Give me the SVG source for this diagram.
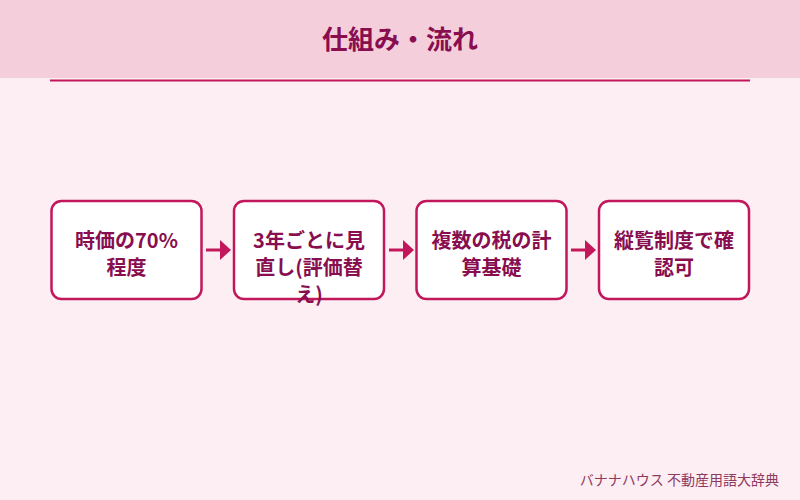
<svg xmlns="http://www.w3.org/2000/svg" width="800" height="500" viewBox="0 0 800 500">
<defs>
<style>
.box{fill:#ffffff;stroke:#c2185b;stroke-width:2.5}
.t{font-family:"Noto Sans CJK JP","Noto Sans",sans-serif;font-weight:bold;font-size:20px;fill:#880e4f;text-anchor:middle}
.shaft{stroke:#c2185b;stroke-width:3;fill:none}
.head{fill:#c2185b}
</style>
</defs>
<rect x="0" y="0" width="800" height="500" fill="#fdeef3"/>
<rect x="0" y="0" width="800" height="78" fill="#f5cedc"/>
<rect x="50" y="79.5" width="700" height="2" fill="#c2185b"/>
<text x="400" y="49" font-family="'Noto Sans CJK JP','Noto Sans',sans-serif" font-weight="bold" font-size="26" fill="#880e4f" text-anchor="middle">仕組み・流れ</text>
<g id="connectors">
<line class="shaft" x1="206" y1="250" x2="221" y2="250"/><polygon class="head" points="220,240 231,250 220,260"/>
<line class="shaft" x1="389" y1="250" x2="404" y2="250"/><polygon class="head" points="403,240 414,250 403,260"/>
<line class="shaft" x1="571" y1="250" x2="586" y2="250"/><polygon class="head" points="585,240 596,250 585,260"/>
</g>
<g id="node1"><rect class="box" x="51.5" y="201" width="150" height="98" rx="10"/>
<text class="t" x="126.5" y="248">時価の70%</text><text class="t" x="126.5" y="275">程度</text></g>
<g id="node2"><rect class="box" x="234" y="201" width="150" height="98" rx="10"/>
<text class="t" x="309" y="248">3年ごとに見</text><text class="t" x="309" y="275">直し(評価替</text><text class="t" x="309" y="302">え)</text></g>
<g id="node3"><rect class="box" x="416.5" y="201" width="150" height="98" rx="10"/>
<text class="t" x="491.5" y="248">複数の税の計</text><text class="t" x="491.5" y="275">算基礎</text></g>
<g id="node4"><rect class="box" x="599" y="201" width="150" height="98" rx="10"/>
<text class="t" x="674" y="248">縦覧制度で確</text><text class="t" x="674" y="275">認可</text></g>
<text x="779" y="485" font-family="'Noto Sans CJK JP','Noto Sans',sans-serif" font-size="14" fill="#8e3a5e" text-anchor="end">バナナハウス 不動産用語大辞典</text>
</svg>
